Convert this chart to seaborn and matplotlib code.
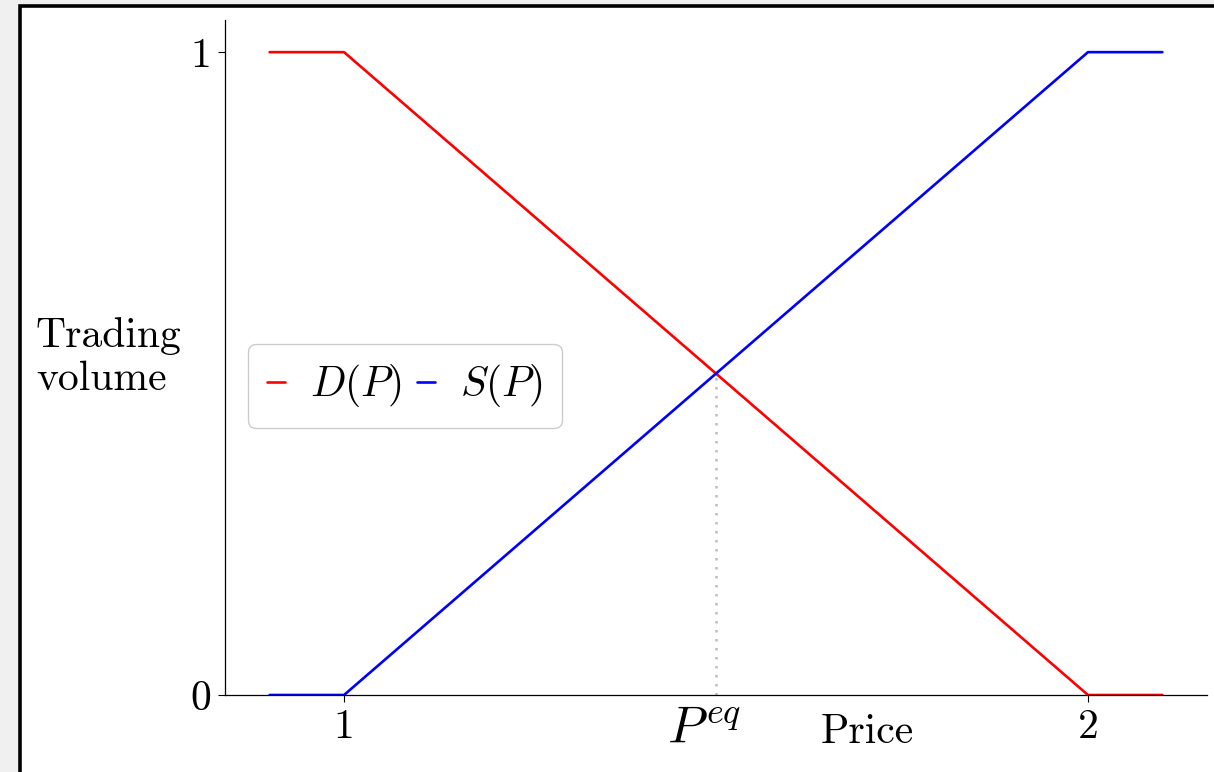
import matplotlib
matplotlib.use("Agg")
import matplotlib.pyplot as plt
from matplotlib.patches import Rectangle
from matplotlib.transforms import ScaledTranslation
import seaborn as sns
import pandas as pd

# Piecewise-linear demand and supply schedules
price = [0.9, 1.0, 2.0, 2.1]
demand = [1.0, 1.0, 0.0, 0.0]
supply = [0.0, 0.0, 1.0, 1.0]

# Market-clearing point
p_eq = 1.5
q_eq = 0.5

x_ticks = [1.0, p_eq, 2.0]
x_tick_labels = ["1", r"$P^{eq}$", "2"]
y_ticks = [0, 1]
y_tick_labels = ["0", "1"]

sns.set_style("ticks")
plt.rcParams["font.family"] = "serif"
plt.rcParams["font.serif"] = ["cmr10", "DejaVu Serif"]
plt.rcParams["mathtext.fontset"] = "cm"
plt.rcParams["axes.unicode_minus"] = False
plt.rcParams["axes.formatter.use_mathtext"] = True
plt.rcParams["text.color"] = "black"
plt.rcParams["axes.labelcolor"] = "black"

FS = 30

fig = plt.figure(figsize=(12.14, 7.72), dpi=100)
fig.patch.set_facecolor("#f0f0f0")
# white panel with a heavy black frame
fig.patches.append(Rectangle((20 / 1214, -0.2), 1.2, 1.2 - 5.7 / 772,
                             transform=fig.transFigure, facecolor="white",
                             edgecolor="black", linewidth=2.6, zorder=-10))

ax = fig.add_axes([225 / 1214, 1 - 695 / 772, 982 / 1214, 675 / 772])
ax.set_facecolor("none")

df = pd.DataFrame({"price": price, "demand": demand, "supply": supply})
sns.lineplot(data=df, x="price", y="demand", color="red", lw=1.9,
             label=r"$D(P)$", ax=ax)
sns.lineplot(data=df, x="price", y="supply", color="blue", lw=1.9,
             label=r"$S(P)$", ax=ax)
ax.plot([p_eq, p_eq], [0, q_eq], color="#bdbdbd", lw=1.8,
        dashes=(1, 2.6), zorder=1)

ax.set_ylim(0, 1.05)
ax.set_yticks(y_ticks)
ax.set_yticklabels(y_tick_labels)
ax.set_xticks(x_ticks)
ax.set_xticklabels(x_tick_labels)
ax.tick_params(labelsize=FS, length=5, width=0.8, pad=5, colors="black")
peq_label = ax.get_xticklabels()[1]
peq_label.set_fontsize(37)
peq_label.set_transform(peq_label.get_transform()
                        + ScaledTranslation(-0.12, 0.02, fig.dpi_scale_trans))
ax.xaxis.get_major_ticks()[1].tick1line.set_visible(False)

sns.despine(ax=ax)
for s in ("left", "bottom"):
    ax.spines[s].set_linewidth(0.9)
    ax.spines[s].set_color("black")

ax.set_xlabel("Price", fontsize=FS, va="top")
ax.xaxis.set_label_coords(0.654, -0.028)
ax.set_ylabel("Trading\nvolume", fontsize=FS, rotation=0, ha="left",
              va="center", multialignment="left", linespacing=1.2)
ax.yaxis.set_label_coords(-0.1925, 0.50)

ax.legend(loc="center left", bbox_to_anchor=(0, 0.458), ncol=2,
          fontsize=FS, handlelength=0.45, handletextpad=0.6,
          columnspacing=0.35, frameon=True, fancybox=True,
          edgecolor="#cccccc", framealpha=1, borderaxespad=0.55,
          borderpad=0.45)

fig.savefig("out.png", dpi=100, facecolor=fig.get_facecolor())
